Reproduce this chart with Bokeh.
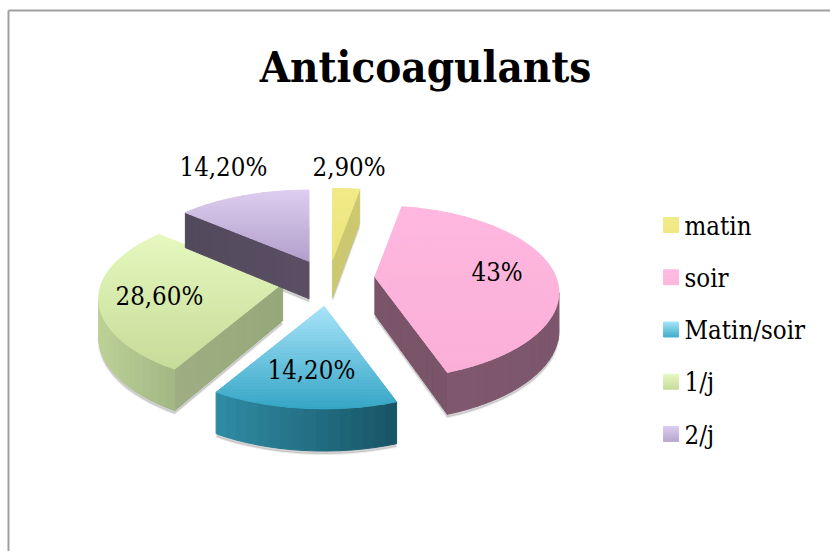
import math
from bokeh.plotting import figure
from bokeh.models import Range1d
from bokeh.core.properties import value
from bokeh.embed import file_html
from bokeh.resources import INLINE

# ---- data -------------------------------------------------------------
title = "Anticoagulants"
categories = ["matin", "soir", "Matin/soir", "1/j", "2/j"]
values = [2.9, 43, 14.2, 28.6, 14.2]
labels = ["2,90%", "43%", "14,20%", "28,60%", "14,20%"]

# ---- styles -----------------------------------------------------------
top_from = ["#F1EA88", "#FFB7DF", "#A8E4FA", "#E6F8BE", "#DDCEF0"]
top_to = ["#ECE57E", "#FBAFD8", "#36A6C6", "#C6DC9A", "#B3A0CB"]
rim_from = ["#CFCB74", "#80596F", "#2F8CA5", "#BCD196", "#5F5468"]
rim_to = ["#C8C46C", "#7C566C", "#175465", "#A2B684", "#504A5A"]
wall = ["#CCC871", "#7A5468", "#2F8CA5", "#96A87A", "#5A4E64"]
wall_end = ["#CCC871", "#7A5468", "#2F8CA5", "#9EAE82", "#524A5C"]
legend_from = ["#F2EB8A", "#FFBCE2", "#A8E4FA", "#E8F8C2", "#DCCEF0"]
legend_to = ["#EFE883", "#FDB6DD", "#45AFCC", "#C8DC9E", "#B9A8CF"]
# text anchors (left x, vertical anchor y as the SVG text is placed by Bokeh)
label_pos = [(312, 166.5), (471, 271.5), (267, 369.5), (115, 295.5), (179, 166.5)]
CX, CY, A, B, K, EX, EY_FAR, EY_NEAR, D = 328, 278, 181, 84, 0.18, 46.5, 19, 28, 37.5


def hex2rgb(h):
    return tuple(int(h[i:i + 2], 16) for i in (1, 3, 5))


def mix(c0, c1, t):
    a, b = hex2rgb(c0), hex2rgb(c1)
    t = max(0.0, min(1.0, t))
    return "#%02x%02x%02x" % tuple(round(a[i] + (b[i] - a[i]) * t) for i in range(3))


def clip_y(poly, lo, hi):
    def clip(pts, inside, cross):
        out = []
        for i, p in enumerate(pts):
            q = pts[(i + 1) % len(pts)]
            if inside(p):
                out.append(p)
                if not inside(q):
                    out.append(cross(p, q))
            elif inside(q):
                out.append(cross(p, q))
        return out

    def at(y):
        return lambda p, q: (p[0] + (q[0] - p[0]) * (y - p[1]) / (q[1] - p[1]), y)

    res = clip(poly, lambda p: p[1] >= lo, at(lo))
    if res:
        res = clip(res, lambda p: p[1] <= hi, at(hi))
    return res


p = figure(width=830, height=551, output_backend="svg", toolbar_location=None,
           x_range=Range1d(0, 830), y_range=Range1d(551, 0), min_border=0)
p.axis.visible = False
p.grid.visible = False
p.outline_line_color = None
p.background_fill_color = "white"


def rim_point(ax, ay, th):
    X, Y = math.sin(th), math.cos(th)
    w = 1 + K * Y
    return ax + A * X / w, ay - B * Y / w, D * (1 / w) ** 0.6


bands = {"xs": [], "ys": [], "c": []}


def add(poly, color):
    bands["xs"].append([q[0] for q in poly])
    bands["ys"].append([q[1] for q in poly])
    bands["c"].append(color)


def gradient_fill(poly, c0, c1, step=1.5):
    y0 = min(q[1] for q in poly)
    y1 = max(q[1] for q in poly)
    y = y0
    while y < y1:
        part = clip_y(poly, y, y + step)
        if len(part) >= 3:
            add(part, mix(c0, c1, (y + step / 2 - y0) / (y1 - y0)))
        y += step


total = sum(values)
shadow = {"xs": [], "ys": []}
start = 0.0
for i, v in enumerate(values):
    span = v / total * 2 * math.pi
    mid = start + span / 2
    ax = CX + EX * math.sin(mid)
    ay = CY - (EY_FAR if math.cos(mid) > 0 else EY_NEAR) * math.cos(mid)
    n = max(3, int(span / math.radians(3)))
    ths = [start + span * j / n for j in range(n + 1)]
    rim = [rim_point(ax, ay, t) for t in ths]
    top = [(ax, ay)] + [(r[0], r[1]) for r in rim]

    sil = [(ax, ay + D)] + [(r[0], r[1] + r[2]) for r in rim]
    shadow["xs"].append([q[0] for q in sil])
    shadow["ys"].append([q[1] + 3 for q in sil])

    for a, b, da, db in ((top[0], top[1], D, rim[0][2]), (top[-1], top[0], rim[-1][2], D)):
        if b[0] < a[0] - 0.5:
            m = 14
            for k in range(m):
                t0, t1 = k / m, (k + 1) / m
                q0 = (a[0] + (b[0] - a[0]) * t0, a[1] + (b[1] - a[1]) * t0, da + (db - da) * t0)
                q1 = (a[0] + (b[0] - a[0]) * t1, a[1] + (b[1] - a[1]) * t1, da + (db - da) * t1)
                add([(q0[0], q0[1]), (q1[0], q1[1]), (q1[0], q1[1] + q1[2]), (q0[0], q0[1] + q0[2])],
                    mix(wall[i], wall_end[i], (t0 + t1) / 2))

    xmin, xmax = min(r[0] for r in rim), max(r[0] for r in rim)
    for r0, r1 in zip(rim, rim[1:]):
        if r1[0] < r0[0]:
            t = ((r0[0] + r1[0]) / 2 - xmin) / max(1.0, xmax - xmin)
            add([(r0[0], r0[1]), (r1[0], r1[1]), (r1[0], r1[1] + r1[2]), (r0[0], r0[1] + r0[2])],
                mix(rim_from[i], rim_to[i], t))

    gradient_fill(top, top_from[i], top_to[i])
    start += span

for i, name in enumerate(categories):
    y = 217 + i * 52.25
    gradient_fill([(663, y), (678, y), (678, y + 15), (663, y + 15)], legend_from[i], legend_to[i], 1.5)

p.patches(shadow["xs"], shadow["ys"], fill_color="#808080", fill_alpha=0.35, line_color="#808080",
          line_alpha=0.15, line_width=2)
p.patches(bands["xs"], bands["ys"], fill_color=bands["c"], line_color=bands["c"], line_width=1)

p.segment([8, 8], [10, 10], [830, 8], [10, 551], line_color="#A0A0A0", line_width=2)

FONT = "DejaVu Serif Condensed"
p.text([425], [66], text=[title], text_font=value(FONT), text_font_style="bold",
       text_font_size="43.5px", text_align="center", text_baseline="alphabetic", text_color="black")
p.text([q[0] for q in label_pos], [q[1] for q in label_pos], text=labels, text_font=value(FONT),
       text_font_size="25.6px", text_align="left", text_baseline="alphabetic", text_color="black")
p.text([684] * len(categories), [225 + i * 52.25 for i in range(len(categories))], text=categories,
       text_font=value(FONT), text_font_size="25.6px", text_align="left", text_baseline="alphabetic",
       text_color="black")

open("out.html", "w").write(file_html(p, INLINE))
